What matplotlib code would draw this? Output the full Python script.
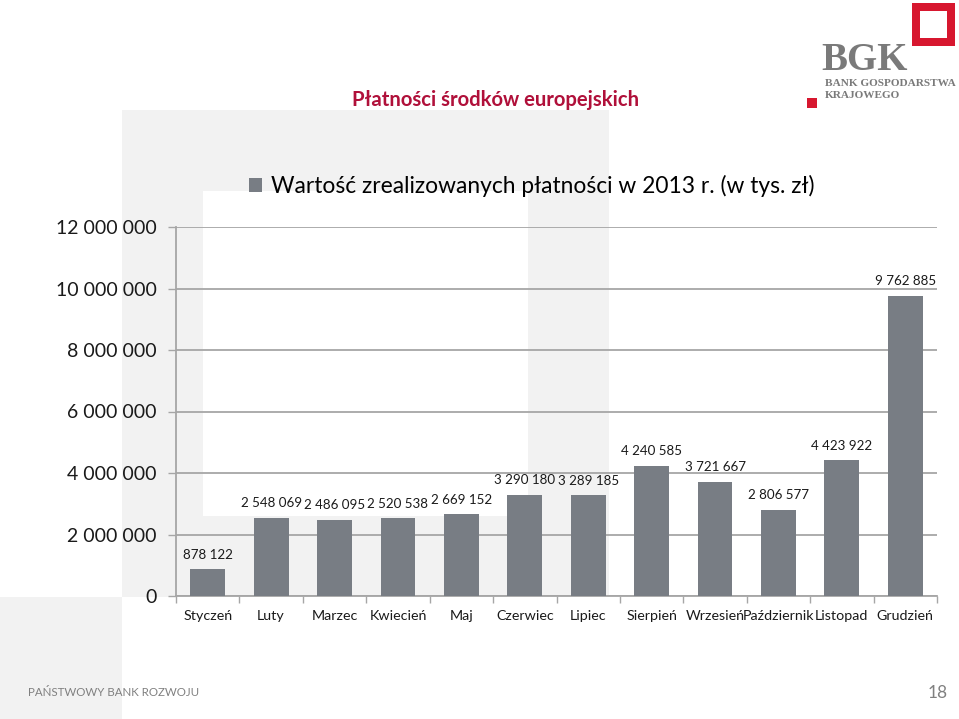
import matplotlib
matplotlib.use("Agg")
import matplotlib.pyplot as plt
from matplotlib.patches import Rectangle, Patch

plt.rcParams['font.family'] = ['Lato', 'DejaVu Sans']

months = ["Styczeń", "Luty", "Marzec", "Kwiecień", "Maj", "Czerwiec", "Lipiec",
          "Sierpień", "Wrzesień", "Październik", "Listopad", "Grudzień"]
values = [878122, 2548069, 2486095, 2520538, 2669152, 3290180, 3289185,
          4240585, 3721667, 2806577, 4423922, 9762885]
yticks = [0, 2000000, 4000000, 6000000, 8000000, 10000000, 12000000]
legend_label = "Wartość zrealizowanych płatności w 2013 r. (w tys. zł)"
title = "Płatności środków europejskich"

W, H = 959, 719
fig = plt.figure(figsize=(W / 100, H / 100), dpi=100)
fig.patch.set_facecolor('white')

def fx(x):
    return x / W

def fy(y):
    return 1 - y / H

def rect(x0, y0, x1, y1, color, z=-2):
    fig.add_artist(Rectangle((fx(x0), fy(y1)), fx(x1) - fx(x0), fy(y0) - fy(y1),
                             transform=fig.transFigure, facecolor=color,
                             edgecolor='none', zorder=z))

bg = '#F2F2F2'
# "P" shaped background
rect(122, 110, 609, 597, bg)
rect(203, 191, 528, 516, 'white', z=-1.5)
rect(0, 597, 122, 719, bg)

# BGK logo
rect(912, 3, 955, 46, '#D7172F', z=-1)
rect(920, 11, 947, 38, 'white', z=-0.9)
rect(807, 98, 817, 108, '#D7172F', z=-1)
fig.text(fx(821), fy(61), "BGK", fontsize=28, family='Liberation Serif', fontweight='bold',
         color='#7A7A7A', ha='left', va='center')
fig.text(fx(825), fy(84), "BANK GOSPODARSTWA", fontsize=8.1, family='Liberation Serif',
         fontweight='bold', color='#7A7A7A', ha='left', va='center')
fig.text(fx(825), fy(95), "KRAJOWEGO", fontsize=8.1, family='Liberation Serif',
         fontweight='bold', color='#7A7A7A', ha='left', va='center')

# Title
fig.text(fx(496), fy(100), title, fontsize=14.6, fontweight='bold',
         color='#B0103A', ha='center', va='center')

# Footer
fig.text(fx(28), fy(693), "PAŃSTWOWY BANK ROZWOJU", fontsize=8.3,
         color='#808080', ha='left', va='center')
fig.text(fx(948), fy(693), "18", fontsize=12.5, color='#808080',
         ha='right', va='center')

# Chart
left, right, top, bottom = 176, 937, 227, 596
ax = fig.add_axes([fx(left), fy(bottom), fx(right) - fx(left), fy(top) - fy(bottom)])
ax.patch.set_alpha(0)

bar_color = '#787D84'
x = list(range(len(months)))
bars = ax.bar(x, values, width=0.55, color=bar_color, zorder=3)
ax.bar_label(bars, labels=[f"{v:,}".replace(",", " ") for v in values],
             padding=6, fontsize=9.6, color='#1A1A1A')

ax.set_xlim(-0.5, len(months) - 0.5)
ax.set_ylim(0, 12000000)
ax.set_yticks(yticks)
ax.set_yticklabels([f"{v:,}".replace(",", " ") for v in yticks], fontsize=14, color='#1A1A1A')
ax.set_xticks(x)
ax.set_xticklabels(months, fontsize=10.3, color='#1A1A1A')
ax.set_xticks([i - 0.5 for i in range(len(months) + 1)], minor=True)
ax.tick_params(axis='x', which='major', length=0, pad=10)
ax.tick_params(axis='x', which='minor', length=5, color='#A6A6A6', width=1)
ax.tick_params(axis='y', length=6, color='#A6A6A6', width=1, pad=8)

ax.yaxis.grid(True, color='#A6A6A6', linewidth=1.3, zorder=1)
ax.set_axisbelow(True)
for s in ['top', 'right']:
    ax.spines[s].set_visible(False)
for s in ['left', 'bottom']:
    ax.spines[s].set_color('#A6A6A6')
    ax.spines[s].set_linewidth(1.3)

fig.legend(handles=[Patch(facecolor=bar_color, edgecolor='none')], labels=[legend_label],
           loc='center', bbox_to_anchor=(fx(532), fy(186)), frameon=False,
           fontsize=16.4, handlelength=0.55, handleheight=0.55, handletextpad=0.4,
           borderpad=0, borderaxespad=0)

fig.savefig("out.png", dpi=100, facecolor='white')
